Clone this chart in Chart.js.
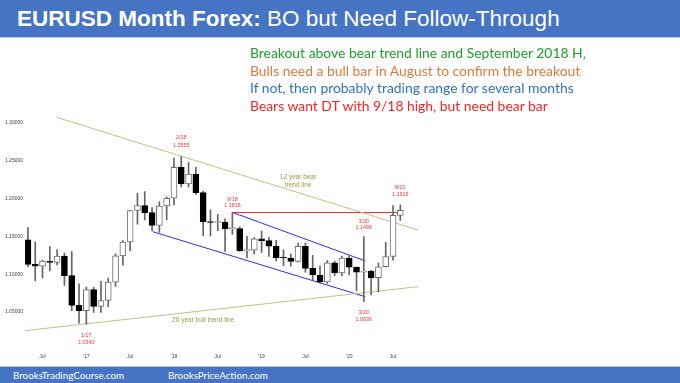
<!DOCTYPE html>
<html><head><meta charset="utf-8">
<script src="https://cdn.jsdelivr.net/npm/chart.js@4.4.1/dist/chart.umd.min.js"></script>
<style>
html,body{margin:0;padding:0;background:#fff;}
#wrap{position:relative;width:680px;height:383px;overflow:hidden;}
canvas{position:absolute;left:0;top:0;}
#title{position:absolute;left:0;top:0;width:680px;height:37px;background:#4674c4;border-bottom:1px solid #bccbe8;font-family:"Liberation Sans",Arial,sans-serif;font-size:22.5px;color:#fff;white-space:nowrap;}
#title .t{position:absolute;left:17px;top:6px;line-height:26px;}
#title b{font-weight:bold;}
#notes{position:absolute;left:250px;top:44px;font-family:Lato,sans-serif;font-size:13.9px;line-height:17.5px;white-space:nowrap;}
#footer{position:absolute;left:0;top:366px;width:680px;height:17px;background:#4674c4;border-top:1px solid #bccbe8;font-family:Lato,sans-serif;font-size:9.8px;color:#fff;white-space:nowrap;}
#footer span{position:absolute;top:0;line-height:17px;}
</style></head>
<body>
<div id="wrap">
<canvas id="c" width="680" height="383"></canvas>
<div id="title"><span class="t"><b>EURUSD Month Forex:</b> BO but Need Follow-Through</span></div>
<div id="notes">
<div style="color:#1e9e2a">Breakout above bear trend line and September 2018 H,</div>
<div style="color:#dc7a3a">Bulls need a bull bar in August to confirm the breakout</div>
<div style="color:#2f73c4">If not, then probably trading range for several months</div>
<div style="color:#ff1e1e">Bears want DT with 9/18 high, but need bear bar</div>
</div>
<div id="footer"><span style="left:13px">BrooksTradingCourse.com</span><span style="left:168px">BrooksPriceAction.com</span></div>
</div>
<script>
// Months counted from Jan 2016 = 0; first candle is May 2016
const firstMonth = 4;
const months = ['2016-05','2016-06','2016-07','2016-08','2016-09','2016-10','2016-11','2016-12',
 '2017-01','2017-02','2017-03','2017-04','2017-05','2017-06','2017-07','2017-08','2017-09','2017-10','2017-11','2017-12',
 '2018-01','2018-02','2018-03','2018-04','2018-05','2018-06','2018-07','2018-08','2018-09','2018-10','2018-11','2018-12',
 '2019-01','2019-02','2019-03','2019-04','2019-05','2019-06','2019-07','2019-08','2019-09','2019-10','2019-11','2019-12',
 '2020-01','2020-02','2020-03','2020-04','2020-05','2020-06','2020-07','2020-08'];
const opens = [1.1454,1.1130,1.1106,1.1174,1.1157,1.1240,1.0982,1.0587,
 1.0517,1.0797,1.0575,1.0652,1.0895,1.1243,1.1426,1.1842,1.1908,1.1814,1.1645,1.1902,
 1.2005,1.2413,1.2194,1.2324,1.2078,1.1693,1.1684,1.1691,1.1602,1.1604,1.1312,1.1317,
 1.1469,1.1445,1.1371,1.1217,1.1214,1.1168,1.1370,1.1076,1.0990,1.0898,1.1151,1.1017,
 1.1213,1.1093,1.1026,1.1040,1.0955,1.1098,1.1234,1.1778];
const highs = [1.1616,1.1428,1.1186,1.1366,1.1327,1.1279,1.1300,1.0874,
 1.0829,1.0829,1.0906,1.0950,1.1268,1.1445,1.1846,1.2070,1.2092,1.1880,1.1961,1.2023,
 1.2537,1.2555,1.2476,1.2414,1.2097,1.1852,1.1791,1.1734,1.1816,1.1625,1.1500,1.1486,
 1.1570,1.1489,1.1448,1.1324,1.1265,1.1412,1.1412,1.1249,1.1109,1.1179,1.1175,1.1239,
 1.1239,1.1095,1.1496,1.1047,1.1147,1.1422,1.1909,1.1916];
const lows = [1.1098,1.0912,1.0952,1.1045,1.1122,1.0852,1.0518,1.0352,
 1.0340,1.0494,1.0494,1.0569,1.0839,1.1118,1.1312,1.1662,1.1717,1.1574,1.1554,1.1717,
 1.1916,1.2155,1.2155,1.2055,1.1510,1.1508,1.1575,1.1301,1.1526,1.1302,1.1216,1.1269,
 1.1289,1.1234,1.1176,1.1110,1.1107,1.1160,1.1027,1.0926,1.0879,1.0879,1.0981,1.0981,
 1.0992,1.0778,1.0636,1.0727,1.0766,1.1096,1.1186,1.1710];
const closes = [1.1130,1.1106,1.1174,1.1157,1.1240,1.0982,1.0587,1.0517,
 1.0797,1.0575,1.0652,1.0895,1.1243,1.1426,1.1842,1.1908,1.1814,1.1645,1.1902,1.2005,
 1.2413,1.2194,1.2324,1.2078,1.1693,1.1684,1.1691,1.1602,1.1604,1.1312,1.1317,1.1469,
 1.1445,1.1371,1.1217,1.1214,1.1168,1.1370,1.1076,1.0990,1.0898,1.1151,1.1017,1.1213,
 1.1093,1.1026,1.1030,1.0955,1.1098,1.1234,1.1778,1.1845];

const xTickValues = [6,12,18,24,30,36,42,48,54];
const xTickLabels = ['Jul',"'17",'Jul',"'18",'Jul',"'19",'Jul',"'20",'Jul'];
const yTickValues = [1.05,1.10,1.15,1.20,1.25,1.30];

// trend lines: [month index, price]
const bearTrendLine = [[7.94,1.3075],[57.4,1.1585]];
const bullTrendLine = [[3.6,1.0253],[57.4,1.0835]];
const channelTop = [[32.05,1.1816],[50.2,1.1175]];
const channelBottom = [[21.1,1.1562],[50.2,1.0702]];
const sep18HighLine = [[32.05,1.1816],[55.3,1.1816]];

// price labels: which candle, which price
const priceLabels = [
  {i:21, kind:'high', date:'2/18', dy:[-19.5,-11.5]},
  {i:28, kind:'high', date:'9/18', dy:[-13.2,-6.5]},
  {i:51, kind:'high', date:'8/20', dy:[-17.4,-10.9]},
  {i:46, kind:'high', date:'3/20', dy:[-14.9,-8.9]},
  {i:46, kind:'low',  date:'3/20', dy:[10.5,17.3]},
  {i:8,  kind:'low',  date:'1/17', dy:[11.6,18.2]}
];
const lineTexts = [
  {x:41.0, y:1.2286, text:'12 year bear'},
  {x:41.0, y:1.2180, text:'trend line'},
  {x:28.0, y:1.0394, text:'20 year bull trend line'}
];

const xs = months.map((m,i)=>firstMonth+i);
const bodies = xs.map((x,i)=>({x, y:[opens[i], closes[i]]}));
const wicks = xs.map((x,i)=>({x, y:[lows[i], highs[i]]}));
const isBull = i => closes[i] >= opens[i];
const pts = arr => arr.map(p=>({x:p[0], y:p[1]}));
const lineDs = (arr, color) => ({type:'line', data:pts(arr), borderColor:color, borderWidth:1,
  pointRadius:0, tension:0, fill:false, order:3});

const annot = {
  id:'annot',
  afterDatasetsDraw(chart){
    const {ctx, scales:{x, y}} = chart;
    ctx.save();
    ctx.textAlign='center'; ctx.textBaseline='middle';
    ctx.fillStyle='#ff3030'; ctx.font='5.4px "Liberation Sans", Arial, sans-serif';
    priceLabels.forEach(p=>{
      const price = p.kind==='high' ? highs[p.i] : lows[p.i];
      const px = x.getPixelForValue(xs[p.i]), py = y.getPixelForValue(price);
      ctx.fillText(p.date, px, py+p.dy[0]);
      ctx.fillText(price.toFixed(4), px, py+p.dy[1]);
    });
    ctx.fillStyle='#9e9a45'; ctx.font='6.5px "Liberation Sans", Arial, sans-serif';
    lineTexts.forEach(t=>ctx.fillText(t.text, x.getPixelForValue(t.x), y.getPixelForValue(t.y)));
    ctx.restore();
  }
};

new Chart(document.getElementById('c'), {
  type:'bar',
  data:{
    datasets:[
      {data:bodies, barThickness:6, grouped:false, order:0, borderWidth:1, borderSkipped:false, minBarLength:1,
        backgroundColor: bodies.map((b,i)=>isBull(i)?'#ffffff':'#000000'),
        borderColor: bodies.map((b,i)=>isBull(i)?'#6e6e6e':'#000000')},
      {data:wicks, barThickness:1, grouped:false, order:1, borderWidth:0,
        backgroundColor:'#666666'},
      lineDs(bearTrendLine,'#c4bf83'),
      lineDs(bullTrendLine,'#c4bf83'),
      lineDs(channelTop,'#2a2aff'),
      lineDs(channelBottom,'#2a2aff'),
      lineDs(sep18HighLine,'#ff2a2a')
    ]
  },
  options:{
    responsive:false, animation:false,
    layout:{padding:{top:85.2, bottom:21.2, left:0, right:0}},
    plugins:{legend:{display:false}, tooltip:{enabled:false}},
    scales:{
      x:{type:'linear', min:3.6, max:93.3, offset:false,
        grid:{display:false, drawTicks:false}, border:{display:false},
        afterFit:s=>{s.height=12;},
        afterBuildTicks:s=>{s.ticks = xTickValues.map(v=>({value:v}));},
        ticks:{autoSkip:false, maxRotation:0, padding:4, color:'#444',
          font:{family:'"Liberation Sans", Arial, sans-serif', size:5},
          callback:(v,idx)=>xTickLabels[idx]}},
      y:{type:'linear', min:1.0, max:1.35,
        grid:{display:false, drawTicks:false}, border:{display:false},
        afterFit:s=>{s.width=25;},
        afterBuildTicks:s=>{s.ticks = yTickValues.map(v=>({value:v}));},
        ticks:{padding:2, color:'#444',
          font:{family:'"Liberation Sans", Arial, sans-serif', size:5},
          callback:v=>v.toFixed(5)}}
    }
  },
  plugins:[annot]
});
</script>
</body></html>
